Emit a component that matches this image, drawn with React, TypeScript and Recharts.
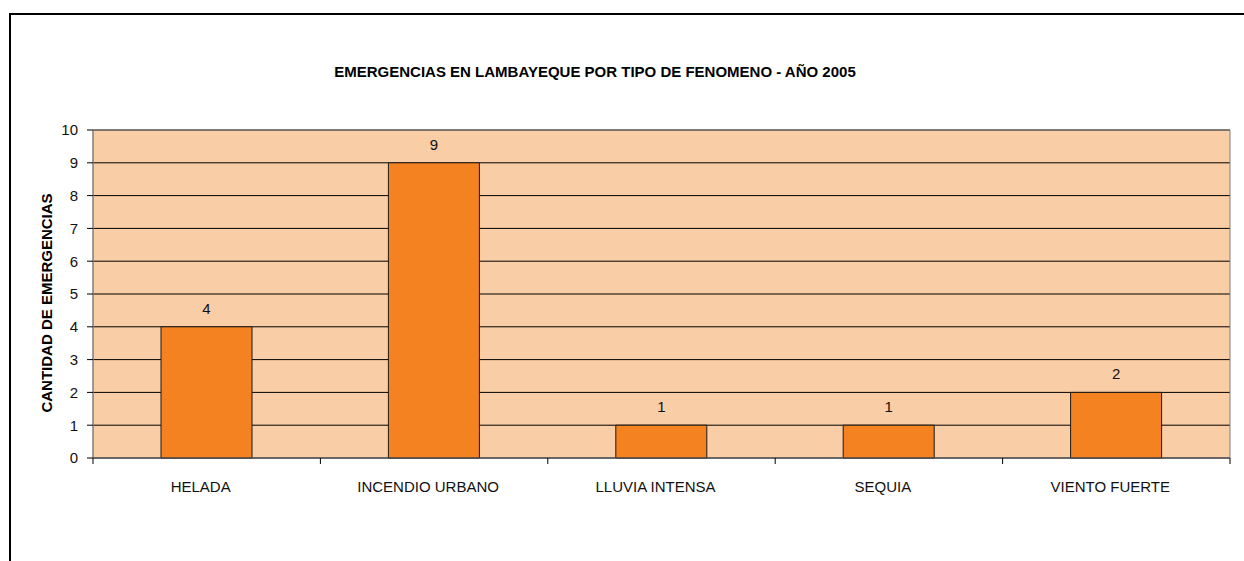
import React from 'react';
import { BarChart, Bar, XAxis, YAxis, CartesianGrid, LabelList, ReferenceArea } from 'recharts';

const categories = ['HELADA', 'INCENDIO URBANO', 'LLUVIA INTENSA', 'SEQUIA', 'VIENTO FUERTE'];
const emergencias = [4, 9, 1, 1, 2];
const yTicks = [0, 1, 2, 3, 4, 5, 6, 7, 8, 9, 10];
const chartTitle = 'EMERGENCIAS EN LAMBAYEQUE POR TIPO DE FENOMENO - AÑO 2005';
const yTitle = 'CANTIDAD DE EMERGENCIAS';

const data = categories.map((c, i) => ({ name: c, value: emergencias[i] }));

const FONT = '"Liberation Sans", Arial, sans-serif';

const XTick = (props: any) => {
  const { x, y, payload, index, visibleTicksCount } = props;
  const half = payload.offset || 0;
  const axisY = y - 23;
  return (
    <g>
      <line x1={x - half} x2={x - half} y1={axisY} y2={axisY + 6} stroke="#000" />
      {index === visibleTicksCount - 1 && (
        <line x1={x + half} x2={x + half} y1={axisY} y2={axisY + 6} stroke="#000" />
      )}
      <text x={x - 6} y={y} dy="0.71em" textAnchor="middle" fontSize={15} fontFamily={FONT} fill="#111">
        {payload.value}
      </text>
    </g>
  );
};

const YTitle = (props: any) => {
  const vb = props.viewBox || { x: 0, y: 0, width: 0, height: 0 };
  const cx = vb.x + 13;
  const cy = vb.y + vb.height / 2 + 9;
  return (
    <text
      x={cx}
      y={cy}
      transform={`rotate(-90, ${cx}, ${cy})`}
      textAnchor="middle"
      dominantBaseline="central"
      fontSize={15}
      fontWeight="bold"
      fontFamily={FONT}
      fill="#000"
    >
      {yTitle}
    </text>
  );
};

export default function App() {
  return (
    <div style={{ position: 'absolute', left: 0, top: 0, width: 1244, height: 561, background: '#fff', overflow: 'hidden' }}>
      <div
        style={{
          position: 'absolute',
          left: 9,
          top: 13,
          width: 1240,
          height: 560,
          borderLeft: '2px solid #000',
          borderTop: '2px solid #000',
        }}
      />
      <div
        style={{
          position: 'absolute',
          left: 0,
          top: 64,
          width: 1190,
          textAlign: 'center',
          fontFamily: FONT,
          fontWeight: 'bold',
          fontSize: 15,
          lineHeight: '15px',
          color: '#000',
          whiteSpace: 'nowrap',
        }}
      >
        {chartTitle}
      </div>
      <div style={{ position: 'absolute', left: 0, top: 0 }}>
        <BarChart width={1244} height={561} data={data} margin={{ top: 130, right: 14, bottom: 63, left: 33 }}>
          <CartesianGrid vertical={false} stroke="#000" fill="#F9CDA5" fillOpacity={1} />
          <ReferenceArea y1={0} y2={10} fill="none" fillOpacity={0} stroke="#7f7f7f" strokeWidth={1} ifOverflow="visible" />
          <XAxis
            dataKey="name"
            height={40}
            tickLine={false}
            tickSize={6}
            tickMargin={17}
            axisLine={{ stroke: '#555' }}
            tick={<XTick />}
            interval={0}
          />
          <YAxis
            width={60}
            domain={[0, 10]}
            ticks={yTicks}
            interval={0}
            tickSize={6}
            tickMargin={9}
            axisLine={{ stroke: '#7f7f7f' }}
            tickLine={{ stroke: '#000' }}
            tick={{ fontSize: 15, fontFamily: FONT, fill: '#111' }}
            label={{ content: <YTitle /> }}
          />
          <Bar dataKey="value" fill="#F58220" stroke="#1a1a1a" strokeWidth={1} barSize={91} isAnimationActive={false}>
            <LabelList dataKey="value" position="top" offset={13} fontSize={15} fontFamily={FONT} fill="#111" />
          </Bar>
        </BarChart>
      </div>
    </div>
  );
}
